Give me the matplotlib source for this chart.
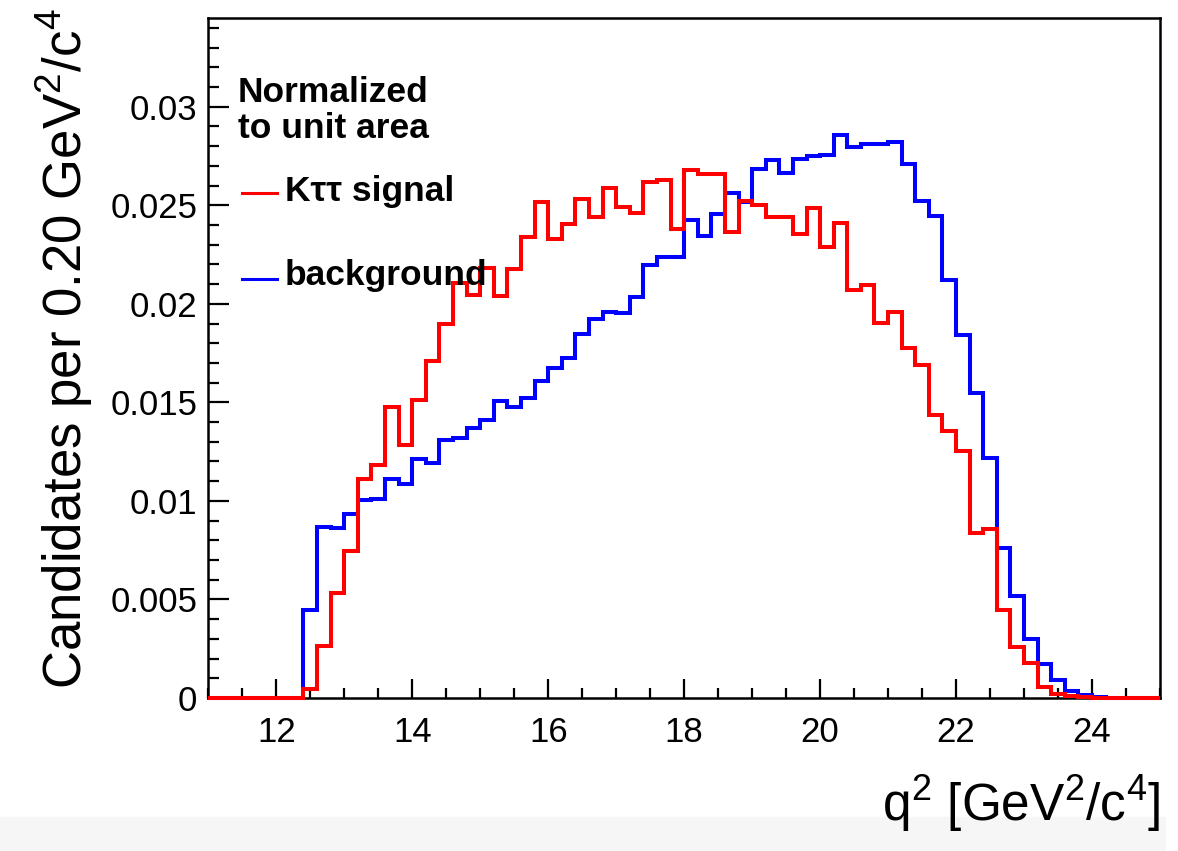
import numpy as np
import matplotlib
matplotlib.use("Agg")
import matplotlib.pyplot as plt
from matplotlib.ticker import MultipleLocator
from matplotlib.patches import Rectangle

plt.rcParams['font.family'] = ['Liberation Sans', 'DejaVu Sans']
plt.rcParams['mathtext.fontset'] = 'custom'
plt.rcParams['mathtext.rm'] = 'Liberation Sans'
plt.rcParams['mathtext.it'] = 'Liberation Sans:italic'
plt.rcParams['mathtext.bf'] = 'Liberation Sans:bold'

# ---- data: q^2 histograms, 0.20 GeV^2/c^4 bins from 11 to 25 ----
bin_edges = np.linspace(11.0, 25.0, 71)

signal = [
    0, 0, 0, 0, 0, 0, 0,
    0.00044, 0.00265, 0.00533, 0.00746, 0.01113, 0.01184, 0.01476, 0.01282,
    0.01512, 0.01709, 0.01895, 0.02104, 0.02047, 0.02182, 0.02042, 0.02177,
    0.02337, 0.02518, 0.02329, 0.02405, 0.02533, 0.02442, 0.02585, 0.02489,
    0.02459, 0.02616, 0.02628, 0.02380, 0.02678, 0.02658, 0.02661, 0.02366,
    0.02523, 0.02501, 0.02438, 0.02442, 0.02354, 0.02484, 0.02290, 0.02408,
    0.02070, 0.02096, 0.01903, 0.01957, 0.01775, 0.01688, 0.01438, 0.01354,
    0.01255, 0.00837, 0.00856, 0.00444, 0.00260, 0.00180, 0.00056, 0.00022,
    0.00012, 0.00005, 0, 0, 0, 0, 0,
]

background = [
    0, 0, 0, 0, 0, 0, 0,
    0.00446, 0.00868, 0.00863, 0.00931, 0.01003, 0.01008, 0.01109, 0.01084,
    0.01214, 0.01194, 0.01307, 0.01319, 0.01368, 0.01410, 0.01508, 0.01475,
    0.01521, 0.01606, 0.01675, 0.01724, 0.01846, 0.01921, 0.01957, 0.01952,
    0.02033, 0.02197, 0.02239, 0.02236, 0.02427, 0.02342, 0.02455, 0.02560,
    0.02518, 0.02683, 0.02729, 0.02663, 0.02737, 0.02749, 0.02756, 0.02857,
    0.02798, 0.02810, 0.02812, 0.02820, 0.02710, 0.02521, 0.02443, 0.02120,
    0.01840, 0.01548, 0.01217, 0.00761, 0.00518, 0.00300, 0.00170, 0.00093,
    0.00038, 0.00017, 0.00005, 0, 0, 0, 0,
]

x_ticks = [12, 14, 16, 18, 20, 22, 24]
y_ticks = [0, 0.005, 0.01, 0.015, 0.02, 0.025, 0.03]
y_tick_labels = ["0", "0.005", "0.01", "0.015", "0.02", "0.025", "0.03"]

# ---- figure ----
W, H = 1178, 851
fig = plt.figure(figsize=(W / 100, H / 100), dpi=100)
fig.patches.append(Rectangle((0, 0), 1165 / W, 34 / H, transform=fig.transFigure,
                             color='#f6f6f6', zorder=0))
ax = fig.add_axes([208.3 / W, 1 - 698 / H, (1160 - 208.3) / W, (698 - 18) / H])

ax.stairs(background, bin_edges, color='#0000ff', lw=2.9, zorder=3, clip_on=False)
ax.stairs(signal, bin_edges, color='#ff0000', lw=2.9, zorder=3.1, clip_on=False)

ax.set_xlim(11, 25)
ax.set_ylim(0, 0.0345)
ax.set_xticks(x_ticks)
ax.set_xticklabels([str(t) for t in x_ticks])
ax.set_yticks(y_ticks)
ax.set_yticklabels(y_tick_labels)
ax.xaxis.set_minor_locator(MultipleLocator(0.5))
ax.yaxis.set_minor_locator(MultipleLocator(0.001))

ax.tick_params(axis='both', which='both', direction='in', top=False, right=False,
               width=1.6, labelsize=25)
ax.tick_params(axis='x', which='major', length=14, pad=13)
ax.tick_params(axis='x', which='minor', length=7)
ax.tick_params(axis='y', which='major', length=15, pad=8)
ax.tick_params(axis='y', which='minor', length=8)
for s in ax.spines.values():
    s.set_linewidth(1.8)

# axis titles
fig.text(1160 / W, 1 - 821 / H, r'q$^{2}$ [GeV$^{2}$/c$^{4}$]', ha='right',
         va='baseline', fontsize=37)
fig.text(64 / W, 1 - 8 / H, r'Candidates per 0.20 GeV$^{2}$/c$^{4}$', rotation=90,
         ha='center', va='top', fontsize=38)

# legend-like labels
fig.text(238 / W, 1 - 102 / H, 'Normalized', fontsize=25.5, fontweight='bold')
fig.text(238 / W, 1 - 138 / H, 'to unit area', fontsize=25.5, fontweight='bold')
fig.text(285 / W, 1 - 201 / H, 'K\u03c4\u03c4 signal', fontsize=25.5, fontweight='bold')
fig.text(285 / W, 1 - 285 / H, 'background', fontsize=25.5, fontweight='bold')
fig.add_artist(plt.Line2D([242 / W, 277 / W], [1 - 193 / H, 1 - 193 / H],
                          color='#ff0000', lw=2.2))
fig.add_artist(plt.Line2D([242 / W, 277 / W], [1 - 279 / H, 1 - 279 / H],
                          color='#0000ff', lw=2.2))

fig.savefig('out.png', dpi=100)
